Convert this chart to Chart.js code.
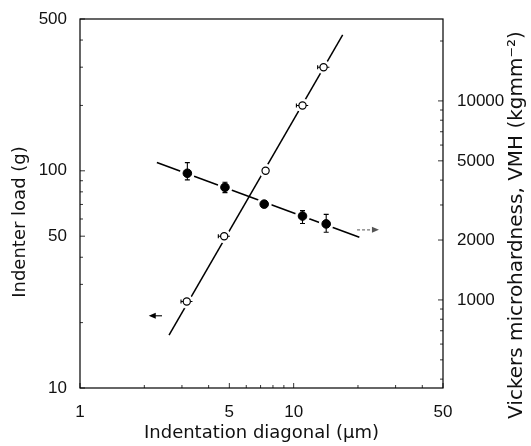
<!DOCTYPE html>
<html>
<head>
<meta charset="utf-8">
<script src="https://cdn.jsdelivr.net/npm/chart.js@4.4.1/dist/chart.umd.min.js"></script>
<style>
  html, body { margin: 0; padding: 0; background: #fff; }
  #wrap { width: 531px; height: 446px; }
</style>
</head>
<body>
<div id="wrap"><canvas id="hardChart"></canvas></div>
<script>
// open circles: indenter load vs diagonal (left axis)
const diagOpen = [3.16, 4.73, 7.39, 11.0, 13.8];
const loadOpen = [25, 50, 100, 200, 300];
const diagOpenLow = [2.97, 4.44, 7.39, 10.3, 12.95];
const diagOpenHigh = [3.36, 5.03, 7.39, 11.7, 14.7];

// filled circles: Vickers microhardness vs diagonal (right axis)
const diagFilled = [3.18, 4.77, 7.28, 11.0, 14.2];
const vmhFilled = [4330, 3680, 3030, 2640, 2410];
const vmhHigh = [4900, 3900, 3030, 2810, 2690];
const vmhLow = [4010, 3460, 3030, 2420, 2190];

// fitted lines
const loadFitDiag = [2.61, 16.96];
const loadFitVal = [17.5, 422];
const vmhFitDiag = [2.29, 20.3];
const vmhFitVal = [4900, 2065];

// arrows telling which axis each curve belongs to
const loadArrowDiag = [2.42, 2.12];
const loadArrowVal = [21.5, 21.5];
const vmhArrowDiag = [19.8, 24.8];
const vmhArrowVal = [2250, 2250];

// tick labels
const diagTicks = [1, 5, 10, 50];
const loadTicks = [10, 50, 100, 500];
const vmhTicks = [1000, 2000, 5000, 10000];

const FONT = "'DejaVu Sans', sans-serif";
const TICK_FONT = "'Liberation Sans', Arial, sans-serif";
const pts = (xs, ys) => xs.map((v, i) => ({x: v, y: ys[i]}));

function minorValues(min, max) {
  const out = [];
  for (let e = Math.floor(Math.log10(min)); e <= Math.ceil(Math.log10(max)); e++) {
    for (let m = 1; m < 10; m++) {
      const v = m * Math.pow(10, e);
      if (v >= min && v <= max) out.push(v);
    }
  }
  return out;
}

function sideTitle(ctx, text, cx, cy, size) {
  ctx.save();
  ctx.translate(cx, cy);
  ctx.rotate(-Math.PI / 2);
  ctx.fillStyle = '#111';
  ctx.font = size + 'px ' + FONT;
  ctx.textAlign = 'center';
  ctx.textBaseline = 'middle';
  ctx.fillText(text, 0, 0);
  ctx.restore();
}

const extras = {
  id: 'extras',
  afterDatasetsDraw(chart) {
    const {ctx, scales: {x, y, y2}} = chart;
    ctx.save();
    ctx.strokeStyle = '#000';
    ctx.lineWidth = 1.1;
    // vertical error bars on filled points
    diagFilled.forEach((d, i) => {
      const px = x.getPixelForValue(d);
      const top = y2.getPixelForValue(vmhHigh[i]);
      const bot = y2.getPixelForValue(vmhLow[i]);
      if (bot - top < 2) return;
      ctx.beginPath();
      ctx.moveTo(px, top); ctx.lineTo(px, bot);
      ctx.moveTo(px - 2.5, top); ctx.lineTo(px + 2.5, top);
      ctx.moveTo(px - 2.5, bot); ctx.lineTo(px + 2.5, bot);
      ctx.stroke();
    });
    // small horizontal bars on open points
    diagOpen.forEach((d, i) => {
      const py = y.getPixelForValue(loadOpen[i]);
      const l = x.getPixelForValue(diagOpenLow[i]);
      const r = x.getPixelForValue(diagOpenHigh[i]);
      if (r - l < 2) return;
      const c = x.getPixelForValue(d);
      ctx.beginPath();
      ctx.moveTo(l, py); ctx.lineTo(c - 3.5, py);
      ctx.moveTo(c + 3.5, py); ctx.lineTo(r, py);
      ctx.moveTo(l, py - 2); ctx.lineTo(l, py + 2);
      ctx.stroke();
    });
    // left arrow (load curve -> left axis)
    let ax0 = x.getPixelForValue(loadArrowDiag[0]), ax1 = x.getPixelForValue(loadArrowDiag[1]);
    let ay = y.getPixelForValue(loadArrowVal[0]);
    ctx.beginPath();
    ctx.moveTo(ax0, ay); ctx.lineTo(ax1 + 3, ay); ctx.stroke();
    ctx.fillStyle = '#000';
    ctx.beginPath();
    ctx.moveTo(ax1 - 1, ay); ctx.lineTo(ax1 + 6, ay - 3); ctx.lineTo(ax1 + 6, ay + 3); ctx.closePath(); ctx.fill();
    // right arrow (hardness curve -> right axis), dotted
    ax0 = x.getPixelForValue(vmhArrowDiag[0]); ax1 = x.getPixelForValue(vmhArrowDiag[1]);
    ay = y2.getPixelForValue(vmhArrowVal[0]);
    ctx.strokeStyle = '#777';
    ctx.fillStyle = '#555';
    ctx.setLineDash([3, 2]);
    ctx.beginPath(); ctx.moveTo(ax0, ay); ctx.lineTo(ax1 - 5, ay); ctx.stroke();
    ctx.setLineDash([]);
    ctx.beginPath();
    ctx.moveTo(ax1 + 1, ay); ctx.lineTo(ax1 - 6, ay - 3); ctx.lineTo(ax1 - 6, ay + 3); ctx.closePath(); ctx.fill();
    ctx.restore();
  },
  afterDraw(chart) {
    const {ctx, chartArea: a, scales: {x, y, y2}} = chart;
    ctx.save();
    ctx.strokeStyle = '#000';
    ctx.lineWidth = 1.2;
    ctx.strokeRect(a.left, a.top, a.right - a.left, a.bottom - a.top);
    ctx.lineWidth = 0.8;
    ctx.beginPath();
    minorValues(x.min, x.max).forEach(v => {
      const p = x.getPixelForValue(v), len = diagTicks.includes(v) ? 5 : 3;
      ctx.moveTo(p, a.bottom); ctx.lineTo(p, a.bottom - len);
    });
    minorValues(y.min, y.max).forEach(v => {
      const p = y.getPixelForValue(v), len = loadTicks.includes(v) ? 5 : 3;
      ctx.moveTo(a.left, p); ctx.lineTo(a.left + len, p);
    });
    minorValues(y2.min, y2.max).forEach(v => {
      const p = y2.getPixelForValue(v), len = vmhTicks.includes(v) ? 5 : 3;
      ctx.moveTo(a.right, p); ctx.lineTo(a.right - len, p);
    });
    ctx.stroke();
    ctx.restore();
    // axis titles on both sides read bottom to top
    sideTitle(ctx, 'Indenter load (g)', 20, 222, 18);
    sideTitle(ctx, 'Vickers microhardness, VMH (kgmm\u207B\u00B2)', 517, 225, 20);
  }
};

const setTicks = list => scale => { scale.ticks = list.map(v => ({value: v})); };

new Chart(document.getElementById('hardChart'), {
  type: 'scatter',
  data: {
    datasets: [
      {
        label: 'Load fit', data: pts(loadFitDiag, loadFitVal), yAxisID: 'y',
        showLine: true, borderColor: '#000', borderWidth: 1.5, pointRadius: 0, order: 5
      },
      {
        label: 'VMH fit', data: pts(vmhFitDiag, vmhFitVal), yAxisID: 'y2',
        showLine: true, borderColor: '#000', borderWidth: 1.6, pointRadius: 0, order: 5
      },
      {
        label: 'gap1', data: pts(diagOpen, loadOpen), yAxisID: 'y',
        pointRadius: 6.5, backgroundColor: '#fff', borderColor: '#fff', order: 3
      },
      {
        label: 'gap2', data: pts(diagFilled, vmhFilled), yAxisID: 'y2',
        pointRadius: 7, backgroundColor: '#fff', borderColor: '#fff', order: 3
      },
      {
        label: 'Indenter load', data: pts(diagOpen, loadOpen), yAxisID: 'y',
        pointRadius: 3.6, pointBorderWidth: 1.2, backgroundColor: '#fff', borderColor: '#000', order: 1
      },
      {
        label: 'VMH', data: pts(diagFilled, vmhFilled), yAxisID: 'y2',
        pointRadius: 4.3, backgroundColor: '#000', borderColor: '#000', order: 1
      }
    ]
  },
  options: {
    responsive: true,
    maintainAspectRatio: false,
    animation: false,
    layout: { padding: { top: 19, left: 0, right: 0, bottom: 0 } },
    plugins: { legend: { display: false }, tooltip: { enabled: false } },
    scales: {
      x: {
        type: 'logarithmic', min: 1, max: 50, bounds: 'data',
        afterBuildTicks: setTicks(diagTicks),
        afterFit: s => { s.height = 58; },
        grid: { display: false },
        border: { display: false },
        ticks: { color: '#111', padding: 6, autoSkip: false, maxRotation: 0, font: { family: TICK_FONT, size: 17 }, callback: v => String(v) },
        title: { display: true, text: 'Indentation diagonal (\u03BCm)', color: '#111', padding: { top: 0, bottom: 2 }, font: { family: FONT, size: 18 } }
      },
      y: {
        type: 'logarithmic', position: 'left', min: 10, max: 500, bounds: 'data',
        afterBuildTicks: setTicks(loadTicks),
        afterFit: s => { s.width = 80; },
        grid: { display: false },
        border: { display: false },
        ticks: { color: '#111', padding: 5, autoSkip: false, font: { family: TICK_FONT, size: 17 }, callback: v => String(v) }
      },
      y2: {
        type: 'logarithmic', position: 'right', min: 361, max: 25800, bounds: 'data',
        afterBuildTicks: setTicks(vmhTicks),
        afterFit: s => { s.width = 88; },
        grid: { display: false },
        border: { display: false },
        ticks: { color: '#111', padding: 6, autoSkip: false, font: { family: TICK_FONT, size: 17 }, callback: v => String(v) }
      }
    }
  },
  plugins: [extras]
});
</script>
</body>
</html>
